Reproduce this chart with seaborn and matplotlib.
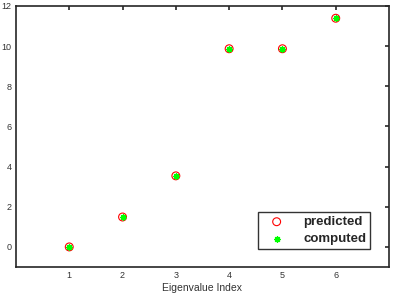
import numpy as np
import pandas as pd
import matplotlib
matplotlib.use("Agg")
import matplotlib.pyplot as plt
import seaborn as sns

idx = [1, 2, 3, 4, 5, 6]
predicted = [0.0, 1.49, 3.54, 9.87, 9.87, 11.39]
computed = [0.0, 1.49, 3.54, 9.87, 9.87, 11.39]

df = pd.DataFrame({"idx": idx, "predicted": predicted, "computed": computed})

sns.set_style("white")
plt.rcParams['font.family'] = ['Liberation Sans', 'DejaVu Sans']

fig = plt.figure(figsize=(3.99, 2.99), dpi=100)
ax = fig.add_axes([0.040, 0.107, 0.935, 0.873])

sns.scatterplot(data=df, x="idx", y="predicted", ax=ax, marker="o", s=32,
                facecolor="none", edgecolor="red", linewidth=0.8, label="predicted")
sns.scatterplot(data=df, x="idx", y="computed", ax=ax, marker=(8, 2, 0), s=16,
                color="#00ff00", edgecolor="#00ff00", linewidth=1.0, label="computed")

ax.set_xlim(0, 7)
ax.set_ylim(-1, 12)
ax.set_xticks(idx)
ax.set_yticks(np.arange(0, 13, 2))
ax.set_xlabel("Eigenvalue Index", fontsize=7.5, color="#333333", labelpad=2)
ax.set_ylabel("")
for s in ax.spines.values():
    s.set_linewidth(1.2)
    s.set_color("#262626")
ax.tick_params(direction="in", length=3, width=1.2, labelsize=6.5, colors="#262626",
               labelcolor="#333333", top=True, right=True, pad=3)

leg = ax.legend(loc="lower right", bbox_to_anchor=(0.949, 0.069), frameon=True, fancybox=False,
                edgecolor="black", prop={"weight": "bold", "size": 9.5},
                handletextpad=0.9, borderpad=0.3, borderaxespad=0, labelspacing=0.35,
                handlelength=2.2, markerscale=1.0)
leg.get_frame().set_linewidth(1.0)

fig.savefig("out.png", dpi=100)
